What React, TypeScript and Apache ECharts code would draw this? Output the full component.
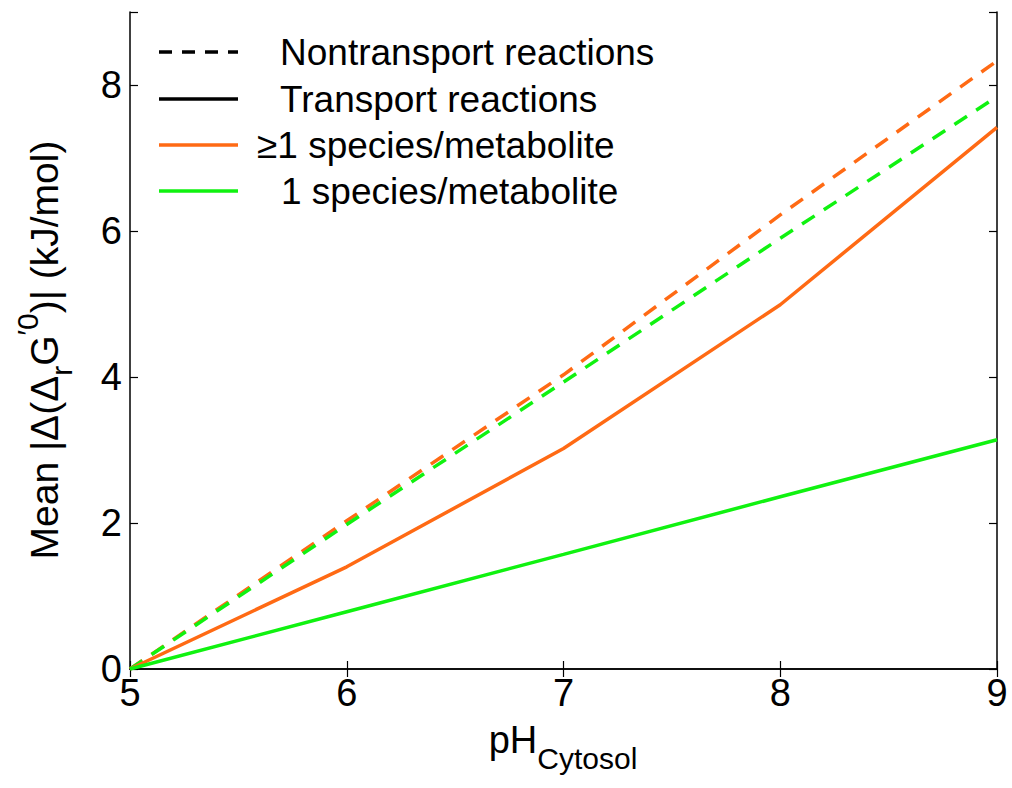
import React, { useEffect, useRef } from "react";
import * as echarts from "echarts";

const phValues = [5, 6, 7, 8, 9];
const nontransportMulti = [0, 2.03, 4.03, 6.22, 8.33];
const nontransportSingle = [0, 1.98, 3.93, 5.9, 7.84];
const transportMulti = [0, 1.4, 3.02, 4.99, 7.42];
const transportSingle = [0, 0.785, 1.57, 2.36, 3.14];
const legendLabels = [
  "Nontransport reactions",
  "Transport reactions",
  "\u22651 species/metabolite",
  "1 species/metabolite",
];
const xTicks = { min: 5, max: 9, interval: 1 };
const yTicks = { min: 0, max: 9, interval: 2 };

const FONT = '"Liberation Sans", Arial, Helvetica, sans-serif';
const ORANGE = "#ff6a14";
const GREEN = "#10f210";

function pairs(ys: number[]) {
  return phValues.map((x, i) => [x, ys[i]]);
}

export default function App() {
  const ref = useRef<HTMLDivElement>(null);
  useEffect(() => {
    if (!ref.current) return;
    const chart = echarts.init(ref.current, undefined, { renderer: "svg" });
    const axisLine = { show: true, lineStyle: { color: "#000", width: 1.5 } };
    const tick = { show: true, inside: true, length: 8, lineStyle: { color: "#000", width: 1.2 } };
    const legendY = [52, 99, 145, 191];
    const legendTextX = [280, 280, 257, 281];
    const legendStyles = [
      { stroke: "#000", lineDash: [13, 10] },
      { stroke: "#000", lineDash: null },
      { stroke: ORANGE, lineDash: null },
      { stroke: GREEN, lineDash: null },
    ];
    const graphic: any[] = [];
    legendLabels.forEach((lab, i) => {
      graphic.push({
        type: "line",
        shape: { x1: 159, y1: legendY[i], x2: 238, y2: legendY[i] },
        style: { stroke: legendStyles[i].stroke, lineWidth: 3.5, lineDash: legendStyles[i].lineDash as any },
        z: 100,
      });
      graphic.push({
        type: "text",
        x: legendTextX[i],
        y: legendY[i],
        style: { text: lab, font: `37px ${FONT}`, fill: "#000", verticalAlign: "middle", align: "left" },
        z: 100,
      });
    });
    const richY = {
      m: { fontSize: 39, fontFamily: FONT, lineHeight: 43, verticalAlign: "top", padding: [12, 0, 0, 0], color: "#000" },
      s: { fontSize: 30, fontFamily: FONT, lineHeight: 32, verticalAlign: "top", padding: [34, 0, 0, 0], color: "#000" },
      p: { fontSize: 30, fontFamily: FONT, lineHeight: 32, verticalAlign: "top", padding: [0, 0, 0, 0], color: "#000" },
    };
    const richX = {
      m: { fontSize: 38, fontFamily: FONT, lineHeight: 42, verticalAlign: "top", padding: [12, 0, 0, 0], color: "#000" },
      s: { fontSize: 30, fontFamily: FONT, lineHeight: 32, verticalAlign: "top", padding: [34, 0, 0, 0], color: "#000" },
    };
    graphic.push({
      type: "text",
      x: 34,
      y: 350,
      rotation: Math.PI / 2,
      style: {
        text: "{m|Mean |\u0394(\u0394}{s|r}{m|G}{p|\u20320}{m|)| (kJ/mol)}",
        rich: richY,
        align: "center",
        verticalAlign: "middle",
      },
    });
    graphic.push({
      type: "text",
      x: 563,
      y: 730,
      style: {
        text: "{m|pH}{s|Cytosol}",
        rich: richX,
        align: "center",
        verticalAlign: "middle",
      },
    });

    const mk = (name: string, data: number[], color: string, dashed: boolean) => ({
      type: "line",
      name,
      data: pairs(data),
      symbol: "none",
      lineStyle: { color, width: 3.5, type: dashed ? [15, 11] : "solid" },
      xAxisIndex: 0,
      yAxisIndex: 0,
    });

    chart.setOption({
      animation: false,
      backgroundColor: "#fff",
      grid: { left: 130, right: 15, top: 12, bottom: 119 },
      xAxis: [
        {
          type: "value",
          ...xTicks,
          position: "bottom",
          axisLine,
          axisTick: tick,
          splitLine: { show: false },
          axisLabel: { color: "#000", fontSize: 38, fontFamily: FONT, margin: 5 },
        },
        {
          type: "value",
          ...xTicks,
          position: "top",
          axisLine,
          axisTick: tick,
          splitLine: { show: false },
          axisLabel: { show: false },
        },
      ],
      yAxis: [
        {
          type: "value",
          ...yTicks,
          position: "left",
          axisLine,
          axisTick: tick,
          splitLine: { show: false },
          axisLabel: {
            color: "#000",
            fontSize: 38,
            fontFamily: FONT,
            margin: 8,
            formatter: (v: number) => (v % 2 === 0 ? String(v) : ""),
          },
        },
        {
          type: "value",
          ...yTicks,
          position: "right",
          axisLine,
          axisTick: tick,
          splitLine: { show: false },
          axisLabel: { show: false },
        },
      ],
      series: [
        mk("Nontransport \u22651", nontransportMulti, ORANGE, true),
        mk("Nontransport 1", nontransportSingle, GREEN, true),
        mk("Transport \u22651", transportMulti, ORANGE, false),
        mk("Transport 1", transportSingle, GREEN, false),
      ],
      graphic,
    });
    return () => chart.dispose();
  }, []);
  return (
    <div
      ref={ref}
      style={{ position: "fixed", left: 0, top: 0, width: 1012, height: 788, background: "#fff" }}
    />
  );
}
